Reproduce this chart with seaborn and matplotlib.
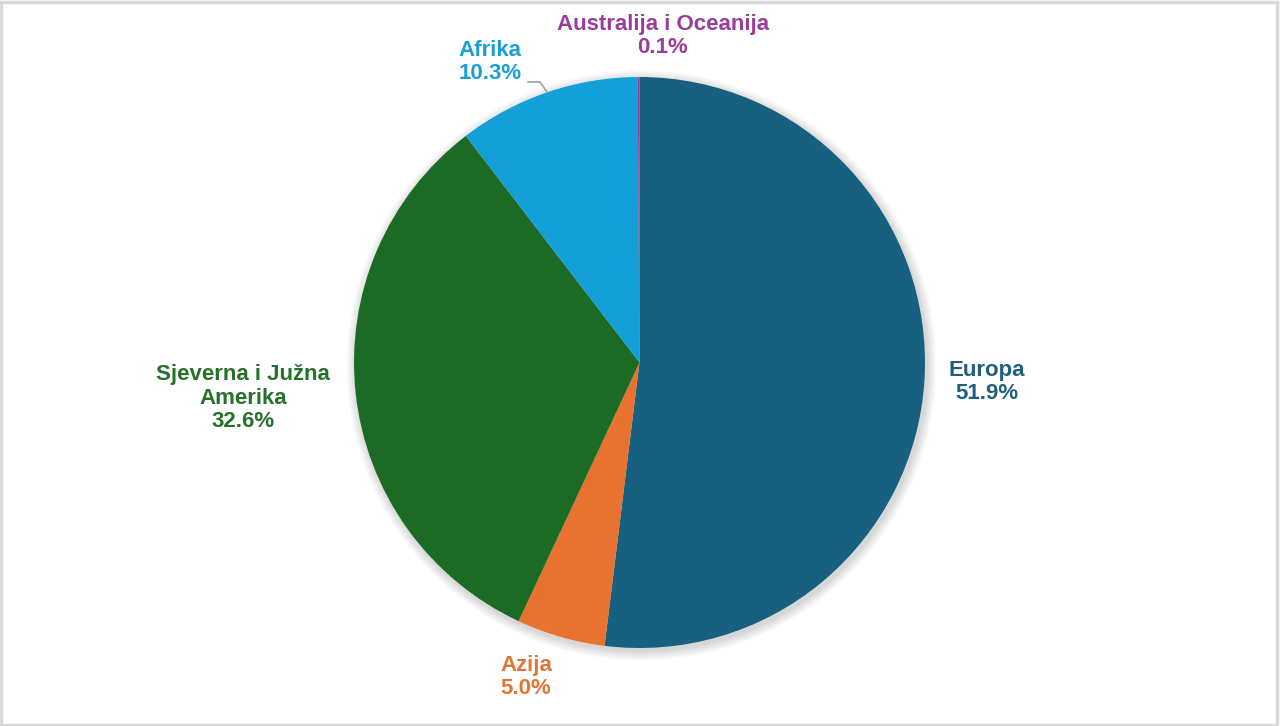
import matplotlib
matplotlib.use("Agg")
import matplotlib.pyplot as plt
import seaborn as sns
from matplotlib.patches import Circle, Rectangle

# Data
regions = ["Europa", "Azija", "Sjeverna i Južna\nAmerika", "Afrika", "Australija i Oceanija"]
shares = [51.9, 5.0, 32.6, 10.3, 0.1]
wedge_colors = ["#17607f", "#e8722f", "#1c6b25", "#139fd7", "#9c3a9c"]
text_colors = ["#1f5f7e", "#e07636", "#27702a", "#1a9fd5", "#9b3b9b"]

sns.set_theme(style="white")
plt.rcParams["font.family"] = ["Liberation Sans", "DejaVu Sans"]

fig = plt.figure(figsize=(12.8, 7.26), dpi=100)
ax = fig.add_axes([0, 0, 1, 1])

cx, cy, r = 639.5, 363.5, 285.5

# soft shadow under the pie
for i in range(8):
    ax.add_patch(Circle((cx + 2, cy - 3), r + 1 + i * 1.2, color="#000000",
                        alpha=0.018, lw=0, zorder=1))

ax.pie(shares, colors=wedge_colors, startangle=90, counterclock=False,
       center=(cx, cy), radius=r, frame=True,
       wedgeprops=dict(linewidth=0, zorder=2))
ax.set_xlim(0, 1280)
ax.set_ylim(0, 726)
ax.set_aspect("equal")
ax.axis("off")

# label positions (pixels, origin bottom-left)
label_pos = [(987, 344), (526, 49), (243, 328), (490, 664), (663, 690)]
for name, val, col, (x, y) in zip(regions, shares, text_colors, label_pos):
    ax.text(x, y, f"{name}\n{val:.1f}%", color=col, fontsize=16, fontweight="bold",
            ha="center", va="center", linespacing=1.17, zorder=5)

# leader line for Afrika
ax.plot([528, 540, 547], [644, 644, 634], color="#a6a6a6", lw=1.3, zorder=3)

# light frame around the figure
fig.patches.append(Rectangle((0.001, 0.002), 0.997, 0.995, transform=fig.transFigure,
                             fill=False, edgecolor="#d9d9d9", lw=2.5))

fig.savefig("out.png", dpi=100, facecolor="white")
